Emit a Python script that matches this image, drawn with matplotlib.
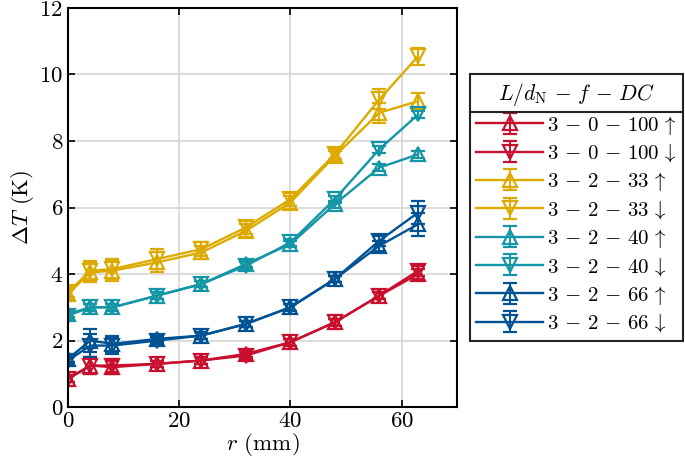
import matplotlib
matplotlib.use("Agg")
import matplotlib.pyplot as plt
from matplotlib.lines import Line2D

plt.rcParams['font.family'] = 'serif'
plt.rcParams['font.serif'] = ['cmr10']
plt.rcParams['mathtext.fontset'] = 'cm'
plt.rcParams['axes.formatter.use_mathtext'] = True

# radial positions (mm)
r = [0, 4, 8, 16, 24, 32, 40, 48, 56, 63]

# temperature rise (K), up / down sweeps
red_up = [0.85, 1.25, 1.2, 1.3, 1.4, 1.6, 1.95, 2.55, 3.35, 4.0]
red_down = [0.85, 1.25, 1.25, 1.3, 1.4, 1.55, 1.95, 2.55, 3.35, 4.1]
yel_up = [3.4, 4.05, 4.1, 4.35, 4.65, 5.3, 6.15, 7.55, 8.85, 9.2]
yel_down = [3.45, 4.1, 4.15, 4.45, 4.75, 5.4, 6.25, 7.6, 9.25, 10.55]
teal_up = [2.8, 3.0, 3.0, 3.35, 3.7, 4.3, 4.9, 6.1, 7.2, 7.6]
teal_down = [2.75, 3.0, 3.0, 3.35, 3.7, 4.25, 4.95, 6.25, 7.75, 8.8]
blue_up = [1.45, 2.0, 1.9, 2.05, 2.15, 2.5, 3.0, 3.85, 4.85, 5.5]
blue_down = [1.4, 1.85, 1.85, 2.0, 2.15, 2.5, 3.0, 3.85, 5.0, 5.85]

# error bar half widths
red_err = [0.1, 0.25, 0.2, 0.1, 0.1, 0.1, 0.1, 0.1, 0.1, 0.15]
yel_err = [0.15, 0.3, 0.3, 0.3, 0.2, 0.2, 0.2, 0.15, 0.3, 0.25]
teal_err = [0.1, 0.1, 0.1, 0.1, 0.1, 0.1, 0.1, 0.1, 0.1, 0.1]
blue_err = [0.1, 0.35, 0.25, 0.1, 0.1, 0.1, 0.1, 0.1, 0.15, 0.35]

labels = [r'$3\,-\,0\,-\,100\,\uparrow$', r'$3\,-\,0\,-\,100\,\downarrow$',
          r'$3\,-\,2\,-\,33\,\uparrow$', r'$3\,-\,2\,-\,33\,\downarrow$',
          r'$3\,-\,2\,-\,40\,\uparrow$', r'$3\,-\,2\,-\,40\,\downarrow$',
          r'$3\,-\,2\,-\,66\,\uparrow$', r'$3\,-\,2\,-\,66\,\downarrow$']
legend_title = r'$L/d_\mathrm{N}\,-\,f\,-\,DC$'

red = '#C8102E'
yellow = '#DDAA00'
teal = '#1496A6'
blue = '#005293'

series = [
    (red_up, red_err, red, '^'),
    (red_down, red_err, red, 'v'),
    (yel_up, yel_err, yellow, '^'),
    (yel_down, yel_err, yellow, 'v'),
    (teal_up, teal_err, teal, '^'),
    (teal_down, teal_err, teal, 'v'),
    (blue_up, blue_err, blue, '^'),
    (blue_down, blue_err, blue, 'v'),
]

fig = plt.figure(figsize=(6.85, 4.69), dpi=100)
ax = fig.add_axes([0.0993, 0.132, 0.568, 0.851])

handles = []
for (y, e, c, m), lab in zip(series, labels):
    h = ax.errorbar(r, y, yerr=e, color=c, marker=m, markersize=10,
                    markerfacecolor='none', markeredgewidth=1.6,
                    linewidth=1.7, capsize=5, capthick=1.6, elinewidth=1.4,
                    label=lab)
    handles.append(h)

ax.set_xlim(0, 70)
ax.set_ylim(0, 12)
ax.set_xticks([0, 20, 40, 60])
ax.set_yticks([0, 2, 4, 6, 8, 10, 12])
ax.grid(True, color='#d9d9d9', linewidth=1.3)
ax.set_axisbelow(True)
ax.tick_params(direction='in', top=True, right=True, labelsize=16.5, length=5, width=1.2)
for s in ax.spines.values():
    s.set_linewidth(1.5)
ax.set_xlabel(r'$r$ (mm)', fontsize=16.5, labelpad=0)
ax.set_ylabel(r'$\Delta T$ (K)', fontsize=16.5, labelpad=2)

leg = ax.legend(handles=handles, loc='center left', bbox_to_anchor=(1.033, 0.5),
                borderaxespad=0, fontsize=15, title=legend_title,
                title_fontsize=15.5, frameon=True, fancybox=False,
                edgecolor='#222222', framealpha=1, handlelength=3.2,
                handletextpad=0.2, labelspacing=0.28, borderpad=0.3)
leg.get_frame().set_linewidth(1.5)

# horizontal line under legend title
fig.canvas.draw()
fb = leg.get_frame().get_window_extent()
tb = leg.get_title().get_window_extent()
inv = fig.transFigure.inverted()
x0, _ = inv.transform((fb.x0, 0))
x1, _ = inv.transform((fb.x1, 0))
_, yl = inv.transform((0, tb.y0 - 4))
fig.add_artist(Line2D([x0, x1], [yl, yl], transform=fig.transFigure,
                      color='#222222', linewidth=1.5))

fig.savefig('out.png', dpi=100)
